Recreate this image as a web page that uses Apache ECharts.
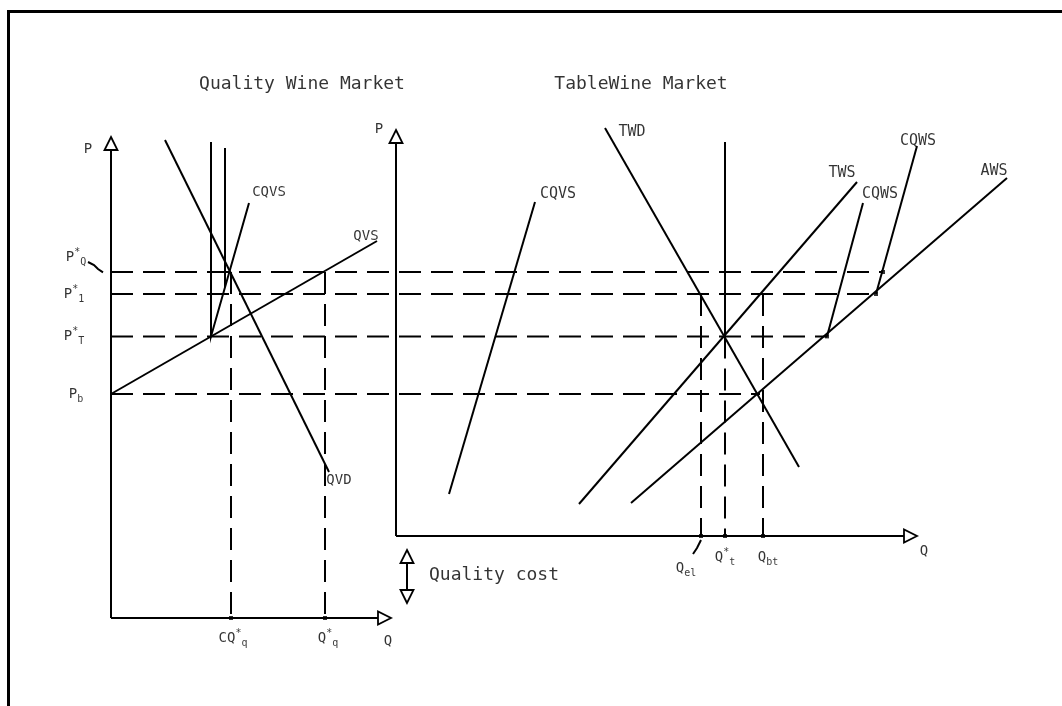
<!DOCTYPE html>
<html><head><meta charset="utf-8">
<script src="https://cdn.jsdelivr.net/npm/echarts@6/dist/echarts.min.js"></script>
<style>
html,body{margin:0;padding:0;background:#fff;overflow:hidden;}
#frame{position:absolute;left:7px;top:10px;width:1100px;height:800px;border-left:3px solid #000;border-top:3px solid #000;}
#chart{position:absolute;left:0;top:0;width:1062px;height:706px;}
</style></head><body>
<div id="frame"></div>
<div id="chart"></div>
<script>
// ---- price levels (P units) ----
const P_Q = 86.5, P_1 = 81, P_T = 70.4, P_b = 56;
// ---- quantity levels (Q units) ----
const Q_CQq = 30, Q_q = 53.5, Q_el = 147.5, Q_t = 153.5, Q_bt = 163;
// ---- table wine panel origin ----
const tableQ0 = 71.25, tableP0 = 20.5;

// ---- axes (from, to) ----
const axisQualityP = [[0, 0], [0, 120.25]];
const axisQualityQ = [[0, 0], [70, 0]];
const axisTableP = [[tableQ0, tableP0], [tableQ0, 122]];
const axisTableQ = [[tableQ0, tableP0], [201.5, tableP0]];
const qualityCostArrow = [[74, 17], [74, 3.75]];

// ---- quality wine market curves ----
const QVS = [[0, 56], [66.5, 94.25]];
const QVD = [[13.5, 119.5], [54.5, 36.5]];
const CQVS_quality = [[25, 119], [25, P_T], [34.5, 103.75]];
const quotaLine = [[28.5, 117.5], [28.5, 82.75]];

// ---- table wine market curves ----
const CQVS_table = [[84.5, 31], [106, 104]];
const TWD = [[123.5, 122.5], [172, 37.75]];
const TWS = [[117, 28.5], [186.5, 109]];
const AWS = [[130, 28.75], [224, 110]];
const CQWS = [[179, P_T], [188, 103.75]];
const CQWS2 = [[191.25, P_1], [201.5, 118]];
const tableQuota = [[Q_t, 119], [Q_t, P_T]];

// ---- dashed guides ----
const guidePrices = [P_Q, P_1, P_T, P_b];
const guideEnds = [193, 191.25, 179, 162.25];
const qualityDrops = [Q_CQq, Q_q];
const tableDrops = [[Q_el, P_1], [Q_t, P_T], [Q_bt, P_1]];

// ---- leaders ----
const leaderPQ = [[-5.75, 89], [-4.25, 88.25], [-3.25, 87.25], [-2, 86.4]];
const leaderQel = [[145.5, 16], [146.5, 17.5], [147.5, 19.5]];

// ---- texts: [text, Q, P, size] ----
const titles = [
  ['Quality Wine Market', 47.75, 133.5],
  ['TableWine Market', 132.5, 133.5]
];
const curveLabels = [
  ['CQVS', 39.5, 106.5, 14], ['QVS', 63.75, 95.5, 14], ['QVD', 57, 34.5, 14],
  ['CQVS', 111.75, 106, 15], ['TWD', 130.25, 121.5, 15], ['TWS', 182.75, 111.25, 15],
  ['CQWS', 192.25, 106, 15], ['CQWS', 201.75, 119.25, 15], ['AWS', 220.75, 111.75, 15]
];
const axisLabels = [
  ['P', -5.75, 117.25], ['P', 67, 122.25],
  ['P{sup|*}{sub|Q}', -8.75, 90.25], ['P{sup|*}{sub|1}', -9.25, 81], ['P{sup|*}{sub|T}', -9.25, 70.5], ['P{sub|b}', -8.75, 56],
  ['CQ{sup|*}{sub|q}', 30.5, -5], ['Q{sup|*}{sub|q}', 54.25, -5], ['Q', 69.25, -5.75],
  ['Q{sub|el}', 143.75, 12.5], ['Q{sup|*}{sub|t}', 153.5, 15.25], ['Q{sub|bt}', 164.25, 15.25], ['Q', 203.25, 16.75]
];
const noteText = ['Quality cost', 95.75, 10.75];

const FONT = 'DejaVu Sans Mono';
const rich = {
  sup: {fontSize: 10, verticalAlign: 'top', fontFamily: FONT, color: '#000'},
  sub: {fontSize: 10, verticalAlign: 'bottom', fontFamily: FONT, color: '#000'}
};

function textItem(t, q, p, size) {
  return {value: [q, p], label: {show: true, position: 'inside', formatter: t, fontSize: size,
    fontFamily: FONT, color: '#000', rich: rich, lineHeight: size + 6}};
}

const solidCurves = [QVS, QVD, CQVS_quality, quotaLine, CQVS_table, TWD, TWS, AWS, CQWS, CQWS2, tableQuota, leaderPQ, leaderQel];
const dashedLines = [];
guidePrices.forEach((p, i) => dashedLines.push([[0, p], [guideEnds[i], p]]));
qualityDrops.forEach(q => dashedLines.push([[q, P_Q], [q, 0]]));
tableDrops.forEach(d => dashedLines.push([[d[0], d[1]], [d[0], tableP0]]));

const markerPts = [[guideEnds[0], P_Q], [guideEnds[1], P_1], [guideEnds[2], P_T],
  [Q_CQq, 0], [Q_q, 0], [Q_el, tableP0], [Q_t, tableP0], [Q_bt, tableP0]];

const arrows = [
  [...axisQualityP[0], ...axisQualityP[1], 0],
  [...axisQualityQ[0], ...axisQualityQ[1], 0],
  [...axisTableP[0], ...axisTableP[1], 0],
  [...axisTableQ[0], ...axisTableQ[1], 0],
  [...qualityCostArrow[0], ...qualityCostArrow[1], 1]
];

function renderArrow(params, api) {
  const a = api.coord([api.value(0), api.value(1)]);
  const b = api.coord([api.value(2), api.value(3)]);
  const both = api.value(4);
  const dx = b[0] - a[0], dy = b[1] - a[1];
  const L = Math.hypot(dx, dy), ux = dx / L, uy = dy / L;
  const h = 13, w = 6.5;
  function head(tip, vx, vy) {
    const bx = tip[0] - vx * h, by = tip[1] - vy * h;
    return {type: 'polygon', shape: {points: [tip, [bx - vy * w, by + vx * w], [bx + vy * w, by - vx * w]]},
      style: {fill: '#fff', stroke: '#000', lineWidth: 1.8}};
  }
  const s = both ? [a[0] + ux * h, a[1] + uy * h] : a;
  const e = [b[0] - ux * h, b[1] - uy * h];
  const children = [{type: 'line', shape: {x1: s[0], y1: s[1], x2: e[0], y2: e[1]}, style: {stroke: '#000', lineWidth: 2}}, head(b, ux, uy)];
  if (both) children.push(head(a, -ux, -uy));
  return {type: 'group', children: children};
}

const chart = echarts.init(document.getElementById('chart'), null, {renderer: 'canvas'});
chart.setOption({
  animation: false,
  backgroundColor: 'transparent',
  grid: {left: 11, right: 31, top: 18, bottom: 8, containLabel: false},
  xAxis: {type: 'value', min: -25, max: 230, show: false},
  yAxis: {type: 'value', min: -20, max: 150, show: false},
  series: [
    {type: 'lines', coordinateSystem: 'cartesian2d', polyline: true, silent: true, z: 2,
      lineStyle: {color: '#000', width: 2, opacity: 1, type: [22, 10]},
      data: dashedLines.map(c => ({coords: c}))},
    {type: 'lines', coordinateSystem: 'cartesian2d', polyline: true, silent: true, z: 3,
      lineStyle: {color: '#000', width: 2, opacity: 1},
      data: solidCurves.map(c => ({coords: c}))},
    {type: 'custom', renderItem: renderArrow, data: arrows, silent: true, z: 4, clip: false},
    {type: 'scatter', symbol: 'rect', symbolSize: 4, itemStyle: {color: '#000'}, silent: true, z: 4, data: markerPts},
    {type: 'scatter', symbolSize: 1, itemStyle: {color: 'transparent'}, silent: true, z: 5, clip: false,
      data: [
        ...titles.map(t => textItem(t[0], t[1], t[2], 18)),
        ...curveLabels.map(t => textItem(t[0], t[1], t[2], t[3])),
        ...axisLabels.map(t => textItem(t[0], t[1], t[2], 14)),
        textItem(noteText[0], noteText[1], noteText[2], 18)
      ]}
  ]
});
</script>
</body></html>
